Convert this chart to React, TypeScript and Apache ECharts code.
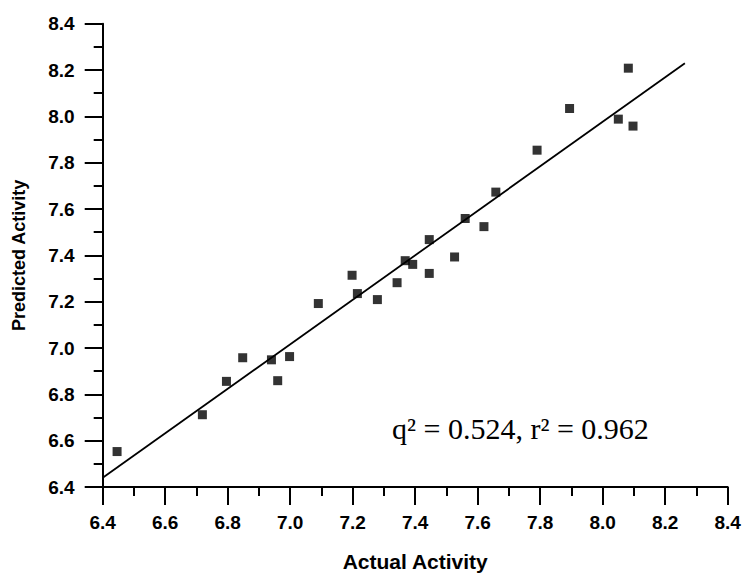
import React, { useEffect, useRef } from "react";
import * as echarts from "echarts";

const actual = [
  6.446, 6.719, 6.796, 6.848, 6.94, 6.96, 6.998, 7.09, 7.198, 7.215, 7.279, 7.342, 7.368,
  7.392, 7.445, 7.445, 7.526, 7.56, 7.62, 7.658, 7.79, 7.894, 8.05, 8.082, 8.097,
];
const predicted = [
  6.553, 6.712, 6.856, 6.958, 6.949, 6.859, 6.963, 7.192, 7.314, 7.235, 7.209, 7.282, 7.377,
  7.361, 7.468, 7.322, 7.393, 7.559, 7.524, 7.673, 7.854, 8.034, 7.988, 8.208, 7.958,
];
const fitX = [6.4, 8.263];
const fitY = [6.44, 8.229];
const equationText = "q² = 0.524, r² = 0.962";
const xTitle = "Actual Activity";
const yTitle = "Predicted Activity";

export default function App() {
  const ref = useRef<HTMLDivElement>(null);
  useEffect(() => {
    if (!ref.current) return;
    const chart = echarts.init(ref.current, null, { renderer: "svg" });
    const axisCommon = {
      type: "value" as const,
      min: 6.4,
      max: 8.4,
      interval: 0.2,
      nameLocation: "middle" as const,
      axisLine: { show: true, lineStyle: { color: "#000", width: 2 } },
      axisTick: { show: true, inside: false, length: 18, lineStyle: { color: "#000", width: 2 } },
      minorTick: { show: true, splitNumber: 2, length: 9, lineStyle: { color: "#000", width: 2 } },
      splitLine: { show: false },
      minorSplitLine: { show: false },
      axisLabel: {
        color: "#000",
        fontFamily: "Liberation Sans",
        fontWeight: "bold" as const,
        fontSize: 19,
        formatter: (v: number) => v.toFixed(1),
      },
    };
    chart.setOption({
      animation: false,
      backgroundColor: "#fff",
      grid: { left: 102.7, right: 16.3, top: 23.7, bottom: 89.3, containLabel: false },
      xAxis: {
        ...axisCommon,
        name: xTitle,
        nameGap: 64,
        nameTextStyle: { color: "#000", fontFamily: "Liberation Sans", fontWeight: "bold", fontSize: 21 },
        axisLabel: { ...axisCommon.axisLabel, margin: 26 },
      },
      yAxis: {
        ...axisCommon,
        name: yTitle,
        nameGap: 75,
        nameTextStyle: { color: "#000", fontFamily: "Liberation Sans", fontWeight: "bold", fontSize: 18 },
        axisLabel: { ...axisCommon.axisLabel, margin: 28 },
      },
      series: [
        {
          type: "line",
          data: fitX.map((x, i) => [x, fitY[i]]),
          symbol: "none",
          lineStyle: { color: "#000", width: 1.8 },
          z: 1,
          silent: true,
        },
        {
          type: "scatter",
          data: actual.map((x, i) => [x, predicted[i]]),
          symbol: "rect",
          symbolSize: 9,
          itemStyle: { color: "#000" },
          z: 2,
        },
      ],
      graphic: [
        {
          type: "text",
          x: 392,
          y: 428,
          style: {
            text: equationText,
            font: '30px "Liberation Serif"',
            fill: "#000",
            verticalAlign: "middle",
            align: "left",
          },
        },
      ],
    });
    return () => chart.dispose();
  }, []);
  return (
    <div
      ref={ref}
      style={{ position: "fixed", left: 0, top: 0, width: 744, height: 577, background: "#fff" }}
    />
  );
}
